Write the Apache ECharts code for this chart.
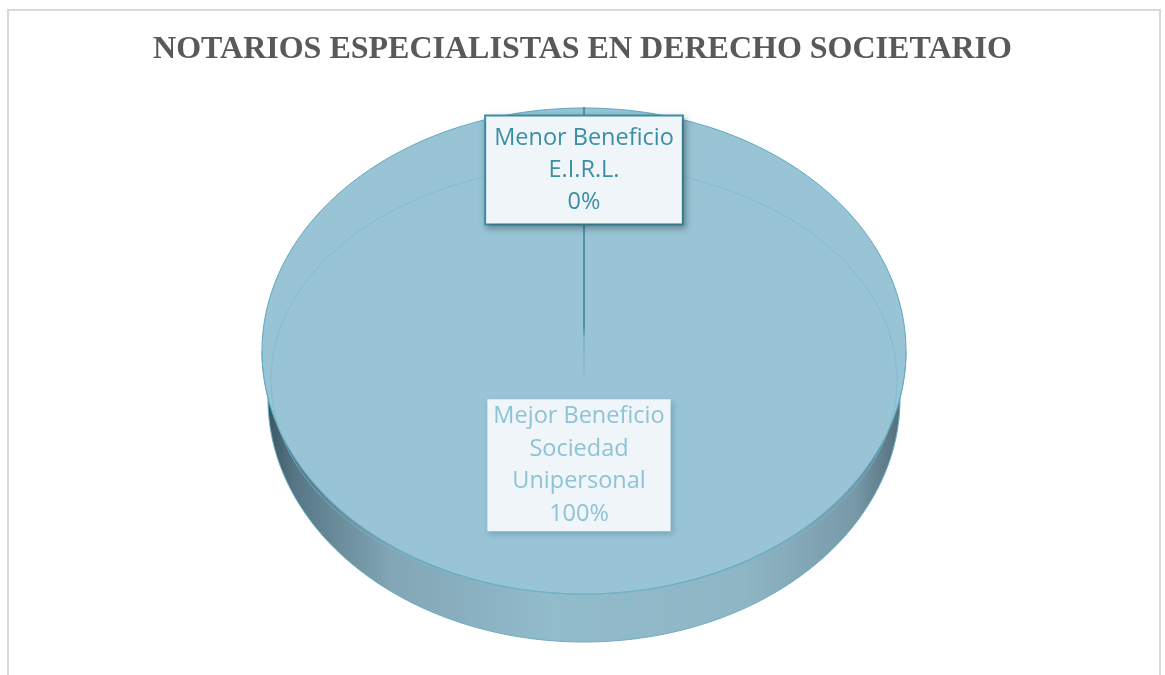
<!DOCTYPE html>
<html>
<head>
<meta charset="utf-8">
<script src="https://cdn.jsdelivr.net/npm/echarts@6/dist/echarts.min.js"></script>
<style>
html, body { margin: 0; padding: 0; background: #fff; }
#main { width: 1165px; height: 675px; }
</style>
</head>
<body>
<div id="main"></div>
<script>
// datos del grafico
var titulo = 'NOTARIOS ESPECIALISTAS EN DERECHO SOCIETARIO';
var categorias = ['Menor Beneficio\nE.I.R.L.', 'Mejor Beneficio\nSociedad\nUnipersonal'];
var valores = [0, 100];

// estilos de las etiquetas (por indice)
var estiloEtiqueta = [
    { color: '#3b8fa5', borde: '#3d93ab', bordeAncho: 2, sombra: 'rgba(0,0,0,0.28)', lineHeight: 32, padding: [11, 8, 0, 8] },
    { color: '#8ec3d6', borde: null, bordeAncho: 0, sombra: 'rgba(40,100,120,0.35)', lineHeight: 32.5, padding: [1, 6] }
];

var total = valores.reduce(function (a, b) { return a + b; }, 0);

// geometria del pastel 3D (elipse + canto)
var CX = 584, CY = 351, RX = 322, RY = 243, PROF = 48, RXB = 316;

function punto(a, cx, cy, rx, ry) {
    return [cx + rx * Math.cos(a), cy + ry * Math.sin(a)];
}

function arco(a0, a1, cx, cy, rx, ry) {
    var pts = [];
    var n = Math.max(2, Math.ceil(Math.abs(a1 - a0) / (Math.PI / 180)));
    for (var k = 0; k <= n; k++) {
        pts.push(punto(a0 + (a1 - a0) * k / n, cx, cy, rx, ry));
    }
    return pts;
}

function renderSlice(params, api) {
    var i = params.dataIndex;
    var v = api.value(0);
    var antes = 0;
    for (var j = 0; j < i; j++) antes += valores[j];
    var a0 = -Math.PI / 2 + 2 * Math.PI * antes / total;
    var a1 = a0 + 2 * Math.PI * v / total;
    var hijos = [];

    // canto frontal (solo la mitad visible)
    var s = Math.max(a0, 0), e = Math.min(a1, Math.PI);
    if (v > 0 && e > s) {
        var sup = arco(s, e, CX, CY, RX, RY);
        var inf = arco(e, s, CX, CY + PROF, RXB, RY);
        hijos.push({
            type: 'polygon',
            z2: 1,
            shape: { points: sup.concat(inf) },
            style: {
                fill: new echarts.graphic.LinearGradient(CX - RX, 0, CX + RX, 0, [
                    { offset: 0, color: '#364f5c' },
                    { offset: 0.05, color: '#567685' },
                    { offset: 0.2, color: '#82a6b6' },
                    { offset: 0.45, color: '#92bbcb' },
                    { offset: 0.75, color: '#8fb6c5' },
                    { offset: 0.92, color: '#7899a8' },
                    { offset: 1, color: '#4f6a77' }
                ], true),
                stroke: '#6aaec4',
                lineWidth: 1
            }
        });
    }

    // cara superior
    if (v > 0) {
        var pts = arco(a0, a1, CX, CY, RX, RY);
        if (v < total) pts = [[CX, CY]].concat(pts);
        hijos.push({
            type: 'polygon',
            z2: 2,
            shape: { points: pts },
            style: { fill: '#98c4d5', stroke: '#5ea8bf', lineWidth: 1 }
        });
        // bisel interior
        hijos.push({
            type: 'polyline',
            z2: 3,
            shape: { points: arco(a0, a1, CX, CY + 29, RX - 9, RY - 29) },
            style: { fill: null, stroke: 'rgba(120,185,205,0.7)', lineWidth: 1 }
        });
    }

    // linea de separacion del sector
    var borde = punto(a0, CX, CY, RX, RY);
    hijos.push({
        type: 'line',
        z2: 4,
        shape: { x1: borde[0], y1: borde[1] - 1, x2: CX, y2: CY + 24 },
        style: {
            stroke: new echarts.graphic.LinearGradient(0, borde[1], 0, CY + 24, [
                { offset: 0, color: '#3a7f93' },
                { offset: 0.82, color: '#3a7f93' },
                { offset: 0.86, color: 'rgba(58,127,147,0.25)' },
                { offset: 1, color: 'rgba(58,127,147,0.05)' }
            ], true),
            lineWidth: 1
        }
    });

    // etiqueta
    var medio = (a0 + a1) / 2;
    var f = v === 0 ? 0.745 : 0.47;
    var pos = punto(medio, CX, CY, RX * f, RY * f);
    var pct = Math.round(v / total * 100);
    var est = estiloEtiqueta[i];
    hijos.push({
        type: 'text',
        z2: 100,
        x: pos[0] - (v === 0 ? 0 : 5),
        y: pos[1],
        style: {
            text: categorias[i] + '\n' + pct + '%',
            font: '23.5px "Open Sans"',
            fill: est.color,
            align: 'center',
            verticalAlign: 'middle',
            lineHeight: est.lineHeight,
            backgroundColor: '#eff5f8',
            borderColor: est.borde,
            borderWidth: est.bordeAncho,
            padding: est.padding,
            shadowBlur: 6,
            shadowColor: est.sombra,
            shadowOffsetX: 2,
            shadowOffsetY: 3
        }
    });

    return { type: 'group', children: hijos };
}

var myChart = echarts.init(document.getElementById('main'));

var option = {
    backgroundColor: '#fff',
    animation: false,
    title: {
        text: titulo,
        left: 'center',
        top: 29,
        textStyle: {
            fontFamily: '"Liberation Serif", "Times New Roman", serif',
            fontSize: 32,
            fontWeight: 'bold',
            color: '#595959'
        }
    },
    graphic: [{
        type: 'rect',
        silent: true,
        shape: { x: 8, y: 10, width: 1152, height: 720 },
        style: { fill: null, stroke: '#d9d9d9', lineWidth: 2 }
    }],
    series: [{
        type: 'custom',
        coordinateSystem: 'none',
        renderItem: renderSlice,
        data: valores.map(function (v, i) { return { name: categorias[i], value: [v] }; })
    }]
};

myChart.setOption(option);
</script>
</body>
</html>
